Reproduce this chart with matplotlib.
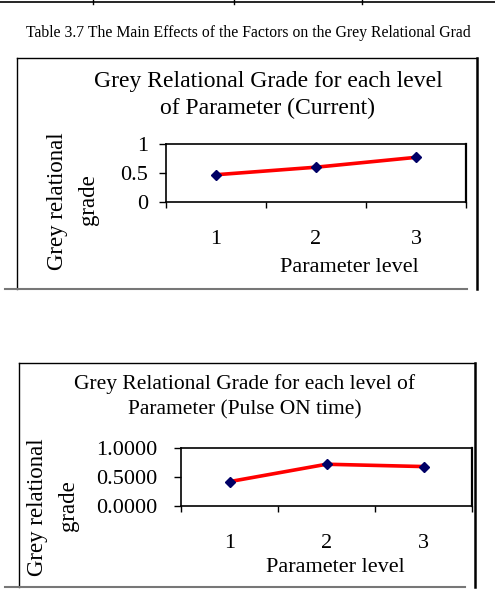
import matplotlib
matplotlib.use('Agg')
import matplotlib.pyplot as plt
from matplotlib.lines import Line2D

# values
levels = [1, 2, 3]
current_grade = [0.47, 0.60, 0.77]
pulse_on_grade = [0.42, 0.72, 0.68]

caption = 'Table 3.7 The Main Effects of the Factors on the Grey Relational Grad'
title_current = ['Grey Relational Grade for each level', 'of Parameter (Current)']
title_pulse = ['Grey Relational Grade for each level of', 'Parameter (Pulse ON time)']

W, H = 495, 607
plt.rcParams['font.family'] = ['Liberation Serif', 'DejaVu Serif']

fig = plt.figure(figsize=(W / 100, H / 100), dpi=100)


def fx(x):
    return x / W


def fy(y):
    return 1 - y / H


def line(x0, y0, x1, y1, color='black', lw=1.0):
    fig.add_artist(Line2D([fx(x0), fx(x1)], [fy(y0), fy(y1)], color=color, lw=lw))


def ptext(x, y, s, size, **kw):
    fig.text(fx(x), fy(y), s, fontsize=size, ha='center', va='center', **kw)


def chart(box, area, values, yticks, yfmt, title, title_xy, title_size,
          xlab_xy, ylab_xy, tick_pad_y, tick_pad_x):
    # outer chart border
    bl, bt, br, bb = box
    line(bl, bt, br, bt, lw=1.0)
    line(bl, bt, bl, bb, lw=1.0)
    line(br, bt, br, bb, lw=1.8)
    line(5, bb, br - 10, bb, color='#777777', lw=1.5)

    # plot area
    l, t, r, b = area
    ax = fig.add_axes([fx(l), fy(b), (r - l) / W, (b - t) / H])
    ax.plot(levels, values, color='#ff0000', lw=2.6, zorder=2)
    ax.plot(levels, values, ls='none', marker='D', ms=5.5, color='#000066', zorder=3)
    ax.set_xlim(0.5, 3.5)
    ax.set_ylim(0, 1)
    ax.set_yticks(yticks)
    ax.set_yticklabels([yfmt.format(v) for v in yticks])
    ax.set_xticks(levels)
    ax.set_xticks([0.5, 1.5, 2.5, 3.5], minor=True)
    ax.tick_params(axis='x', which='major', length=0, pad=tick_pad_x, labelsize=16)
    ax.tick_params(axis='x', which='minor', length=4, width=1, direction='out')
    ax.tick_params(axis='y', length=5, width=1, direction='out', pad=tick_pad_y, labelsize=16)
    for sp in ax.spines.values():
        sp.set_linewidth(1.2)
    ax.spines['right'].set_linewidth(1.6)

    for i, s in enumerate(title):
        ptext(title_xy[0], title_xy[1] + i * 26, s, title_size)
    ptext(xlab_xy[0], xlab_xy[1], 'Parameter level', 16)
    ptext(ylab_xy[0], ylab_xy[1], 'Grey relational', 16.5, rotation=90)
    ptext(ylab_xy[0] + 31, ylab_xy[1] - 1, 'grade', 16.5, rotation=90)
    return ax


# page header rule and caption
line(0, 1.5, W, 1.5, lw=1.2)
for x in [93, 234, 362]:
    line(x, 0, x, 4, lw=1.0)
ptext(248, 33, caption, 11.3)

chart(box=(17, 58, 477, 289), area=(166, 144, 466, 202),
      values=current_grade, yticks=[0, 0.5, 1], yfmt='{:g}',
      title=title_current, title_xy=(268, 82), title_size=17,
      xlab_xy=(349, 267), ylab_xy=(57, 201), tick_pad_y=8, tick_pad_x=20)

chart(box=(19, 363, 475, 587), area=(181, 448, 472, 506),
      values=pulse_on_grade, yticks=[0, 0.5, 1], yfmt='{:.4f}',
      title=title_pulse, title_xy=(245, 384), title_size=15.5,
      xlab_xy=(335, 567), ylab_xy=(38, 507), tick_pad_y=12, tick_pad_x=20)

fig.savefig('out.png', dpi=100)
